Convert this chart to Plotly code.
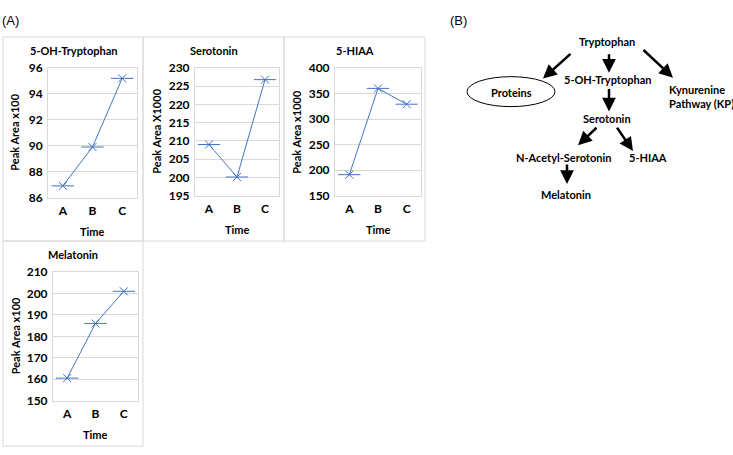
import plotly.graph_objects as go

W, H = 733, 455

times = ["A", "B", "C"]
titles = ["5-OH-Tryptophan", "Serotonin", "5-HIAA", "Melatonin"]
ytitles = ["Peak Area x100", "Peak Area X1000", "Peak Area x1000", "Peak Area x100"]
oh_trp = [86.9, 89.9, 95.2]
serotonin = [209.0, 200.1, 226.8]
hiaa = [191, 360, 329]
melatonin = [160.5, 186.0, 201.0]
series = [oh_trp, serotonin, hiaa, melatonin]
yranges = [[86, 96], [195, 230], [150, 400], [150, 210]]
ydticks = [2, 5, 50, 10]

# pathway diagram labels
nodes = ["Tryptophan", "5-OH-Tryptophan", "Proteins", "Kynurenine<br>Pathway (KP)",
         "Serotonin", "N-Acetyl-Serotonin", "5-HIAA", "Melatonin"]

def px(x):
    return x / W

def py(y):
    return 1 - y / H

# plot areas in pixels (left, right, top, bottom)
areas = [(48, 137, 62, 196), (195, 279, 62, 194), (335, 421, 62, 194), (53, 138, 273, 406)]
boxes = [(3, 143, 30, 241), (143, 284, 30, 241), (284, 425, 30, 241), (3, 143, 241, 453)]
ytitle_x = [15, 157, 297, 15]

FONT = "Lato"
BLUE = "#4472C4"
GRID = "#D9D9D9"

fig = go.Figure()
layout = dict(width=W, height=H, margin=dict(l=0, r=0, t=0, b=0),
              paper_bgcolor="white", plot_bgcolor="white", showlegend=False)
annotations = []
shapes = []

def txt(text, x, y, size=11, bold=True, xanchor="center", angle=0, family=FONT):
    return dict(text=text, xref="paper", yref="paper", x=px(x), y=py(y),
                xanchor=xanchor, yanchor="middle", align="left", showarrow=False,
                textangle=angle,
                font=dict(family=family, size=size, color="black",
                          weight="bold" if bold else "normal"))

for i in range(4):
    xa = "x" if i == 0 else f"x{i+1}"
    ya = "y" if i == 0 else f"y{i+1}"
    l, r, t, b = areas[i]
    fig.add_trace(go.Scatter(x=times, y=series[i], mode="lines+markers", xaxis=xa, yaxis=ya,
                             line=dict(color=BLUE, width=1),
                             marker=dict(symbol="x-thin-open", size=8, color=BLUE,
                                         line=dict(width=1, color=BLUE)),
                             hoverinfo="skip"))
    fig.add_trace(go.Scatter(x=times, y=series[i], mode="markers", xaxis=xa, yaxis=ya,
                             marker=dict(symbol="line-ew-open", size=16, color=BLUE,
                                         line=dict(width=1, color=BLUE)),
                             hoverinfo="skip"))
    layout["xaxis" if i == 0 else f"xaxis{i+1}"] = dict(
        domain=[px(l), px(r)], anchor=ya, type="category", range=[-0.5, 2.5],
        showgrid=False, showline=True, linecolor=GRID, linewidth=1, mirror=True,
        ticks="", tickfont=dict(family=FONT, size=12, color="black", weight="bold"),
        ticklabelstandoff=2, fixedrange=True)
    layout["yaxis" if i == 0 else f"yaxis{i+1}"] = dict(
        domain=[py(b), py(t)], anchor=xa, range=yranges[i], dtick=ydticks[i],
        showgrid=True, gridcolor=GRID, gridwidth=1, zeroline=False,
        showline=True, linecolor=GRID, linewidth=1, mirror=True,
        ticks="", tickfont=dict(family=FONT, size=12, color="black", weight="bold"),
        ticklabelstandoff=2, fixedrange=True)
    bl, br, bt, bb = boxes[i]
    shapes.append(dict(type="rect", xref="paper", yref="paper",
                       x0=px(bl), x1=px(br), y0=py(bb), y1=py(bt),
                       line=dict(color=GRID, width=1), layer="below"))
    annotations.append(txt(titles[i], (bl + br) / 2, bt + 14))
    annotations.append(txt(ytitles[i], ytitle_x[i], (t + b) / 2, size=11, angle=-90))
    annotations.append(txt("Time", (l + r) / 2, b + 35))

annotations.append(txt("(A)", 0, 13, size=13, bold=False, xanchor="left", family="Liberation Sans"))
annotations.append(txt("(B)", 448, 13, size=13, bold=False, xanchor="left", family="Liberation Sans"))

node_pos = [(607, 35, "center"), (607, 74, "center"), (511, 87, "center"), (667, 92, "left"),
            (607, 114, "center"), (563, 155, "center"), (648, 155, "center"), (566, 193, "center")]
for name, (x, y, al) in zip(nodes, node_pos):
    annotations.append(txt(name, x, y, xanchor=al))

arrows = [((572, 47), (543, 73)), ((609, 47), (609, 67)), ((642, 43), (673, 72)),
          ((609, 83), (609, 107)), ((598, 123), (578, 142)), ((616, 123), (633, 148)),
          ((567, 161), (567, 182))]
for (tx, ty), (hx, hy) in arrows:
    annotations.append(dict(text="", xref="paper", yref="paper", x=px(hx), y=py(hy),
                            axref="pixel", ayref="pixel", ax=tx - hx, ay=ty - hy,
                            showarrow=True, arrowhead=2, arrowsize=1.1, arrowwidth=2.5,
                            arrowcolor="black", standoff=0, startstandoff=0))

shapes.append(dict(type="circle", xref="paper", yref="paper",
                   x0=px(467), x1=px(555), y0=py(102), y1=py(71),
                   line=dict(color="black", width=1)))

layout["annotations"] = annotations
layout["shapes"] = shapes
fig.update_layout(**layout)
fig.write_html("out.html", config={"displayModeBar": False},
               post_script="document.body.style.margin='0';document.body.style.overflow='hidden';")
